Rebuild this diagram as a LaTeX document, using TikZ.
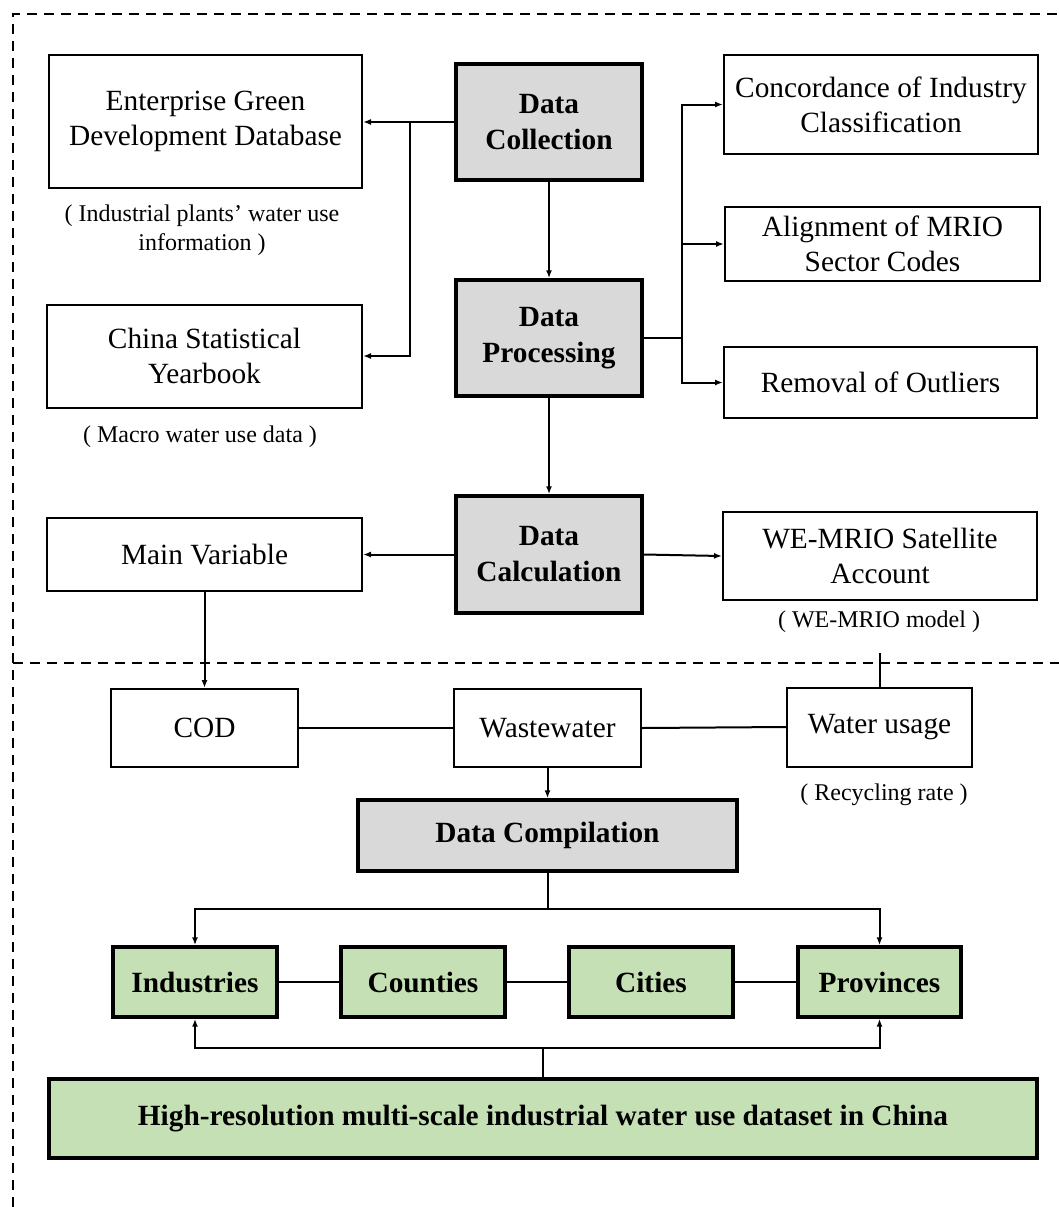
\documentclass[tikz,border=0pt]{standalone}
\usepackage{fontspec}
\setmainfont{Liberation Serif}
\usetikzlibrary{arrows.meta}
\definecolor{boxgray}{HTML}{D9D9D9}
\definecolor{boxgreen}{HTML}{C5E0B4}
\def\u{0.75pt}
\tikzset{
  plainbox/.style={draw, line width=1.5pt, fill=white, align=center, inner sep=2pt,
    font=\fontsize{22}{26.5}\selectfont},
  graybox/.style={draw, line width=2.6pt, fill=boxgray, align=center, inner sep=2pt,
    font=\fontsize{22}{27}\selectfont\bfseries},
  greenbox/.style={draw, line width=2.6pt, fill=boxgreen, align=center, inner sep=2pt,
    font=\fontsize{22}{27}\selectfont\bfseries},
  captxt/.style={align=center, inner sep=0pt, font=\fontsize{18}{21.75}\selectfont},
  conn/.style={line width=1.5pt},
  arr/.style={line width=1.5pt, -{Latex[length=6pt,width=4.5pt]}},
  sep/.style={line width=1.6pt, dash pattern=on 7.5pt off 5.25pt},
}
\begin{document}
\begin{tikzpicture}[x=0.75pt, y=-0.75pt]
\useasboundingbox (0,0) rectangle (1059,1207);
% dashed frames
\draw[sep] (13,1207) -- (13,14) -- (1059,14);
\draw[sep] (13,663) -- (1059,663);

% nodes
\node[plainbox, minimum width=313*\u, minimum height=133*\u] (egd) at (205.5,121.5) {Enterprise Green\\Development Database};
\node[captxt] (cap1) at (202,230) {( Industrial plants’ water use\\information )};
\node[plainbox, minimum width=315*\u, minimum height=103*\u] (csy) at (204.5,356) {China Statistical\\Yearbook};
\node[captxt] (cap2) at (200,437) {( Macro water use data )};

\node[graybox, minimum width=186*\u, minimum height=116*\u] (dcol) at (549,122) {Data\\Collection};
\node[graybox, minimum width=186*\u, minimum height=116*\u] (dproc) at (549,338) {Data\\Processing};
\node[graybox, minimum width=186*\u, minimum height=117*\u] (dcalc) at (549,554.5) {Data\\Calculation};

\node[plainbox, minimum width=314*\u, minimum height=99*\u] (conc) at (881,104.5) {Concordance of Industry\\Classification};
\node[plainbox, minimum width=315*\u, minimum height=74*\u] (align) at (882.5,244) {Alignment of MRIO\\Sector Codes};
\node[plainbox, minimum width=313*\u, minimum height=71*\u] (remov) at (880.5,382.5) {Removal of Outliers};

\node[plainbox, minimum width=315*\u, minimum height=73*\u] (mainv) at (204.5,554.5) {Main Variable};
\node[plainbox, minimum width=314*\u, minimum height=88*\u] (wemrio) at (880,556) {WE-MRIO Satellite\\Account};
\node[captxt] (cap3) at (879,622) {( WE-MRIO model )};

\node[plainbox, minimum width=187*\u, minimum height=78*\u] (cod) at (204.5,728) {COD};
\node[plainbox, minimum width=187*\u, minimum height=78*\u] (waste) at (547.5,728) {Wastewater};
\node[plainbox, minimum width=185*\u, minimum height=79*\u] (wuse) at (879.5,727) {Water usage};
\node[captxt] (cap4) at (884,795) {( Recycling rate )};

\node[graybox, minimum width=379*\u, minimum height=71*\u] (dcomp) at (547.5,835.5) {Data Compilation};

\node[greenbox, minimum width=164*\u, minimum height=70*\u] (ind) at (195,982) {Industries};
\node[greenbox, minimum width=164*\u, minimum height=70*\u] (cnt) at (423,982) {Counties};
\node[greenbox, minimum width=164*\u, minimum height=70*\u] (cit) at (651,982) {Cities};
\node[greenbox, minimum width=163*\u, minimum height=70*\u] (prov) at (879.5,982) {Provinces};

\node[greenbox, minimum width=988*\u, minimum height=79*\u] (final) at (543,1118.5) {High-resolution multi-scale industrial water use dataset in China};

% junction coordinates
\coordinate (j1) at (410,122);
\coordinate (j2) at (682,338);
\coordinate (c3) at (879.5,653);
\coordinate (j3) at (547.5,909);
\coordinate (j4) at (543,1048);

% connectors
\draw[arr] (dcol.west) -- (dcol.west -| egd.east);
\draw[arr] (j1) |- (csy.east);
\draw[arr] (dcol.south) -- (dproc.north);
\draw[conn] (dproc.east) -- (j2);
\draw[arr] (j2) |- (conc.west);
\draw[arr] (j2) |- (align.west);
\draw[arr] (j2) |- (remov.west);
\draw[arr] (dproc.south) -- (dcalc.north);
\draw[arr] (dcalc.west) -- (mainv.east);
\draw[arr] (dcalc.east) -- (wemrio.west);
\draw[arr] (mainv.south) -- (cod.north);
\draw[conn] (cod.east) -- (waste.west);
\draw[conn] (waste.east) -- (wuse.west);
\draw[conn] (c3) -- (wuse.north);
\draw[arr] (waste.south) -- (dcomp.north);
\draw[conn] (dcomp.south) -- (j3);
\draw[arr] (j3) -| (ind.north);
\draw[arr] (j3) -| (prov.north);
\draw[conn] (ind.east) -- (cnt.west);
\draw[conn] (cnt.east) -- (cit.west);
\draw[conn] (cit.east) -- (prov.west);
\draw[conn] (final.north) -- (j4);
\draw[arr] (j4) -| (ind.south);
\draw[arr] (j4) -| (prov.south);
\end{tikzpicture}
\end{document}
